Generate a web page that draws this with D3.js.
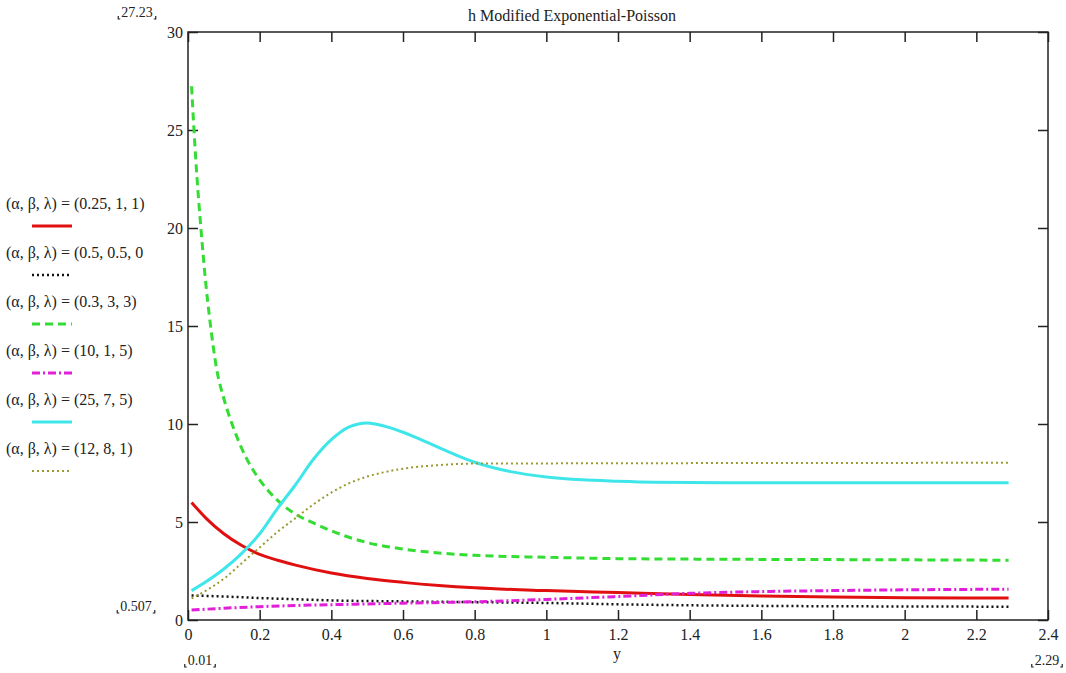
<!DOCTYPE html>
<html>
<head>
<meta charset="utf-8">
<script src="https://cdn.jsdelivr.net/npm/d3@7"></script>
<style>
body { margin: 0; background: #fff; }
text { font-family: "Liberation Serif", "Times New Roman", "DejaVu Serif", serif; fill: #222; }
</style>
</head>
<body>
<div id="chart"></div>
<script>
// 数据
let xTicks = [0, 0.2, 0.4, 0.6, 0.8, 1, 1.2, 1.4, 1.6, 1.8, 2, 2.2, 2.4];
let yTicks = [0, 5, 10, 15, 20, 25, 30];
let legendLabels = ["(0.25, 1, 1)", "(0.5, 0.5, 0", "(0.3, 3, 3)", "(10, 1, 5)", "(25, 7, 5)", "(12, 8, 1)"];

let redX = [0.01, 0.05, 0.1, 0.15, 0.2, 0.25, 0.3, 0.4, 0.5, 0.6, 0.7, 0.8, 1.0, 1.2, 1.4, 1.6, 1.8, 2.0, 2.29];
let redY = [6.0, 5.2, 4.4, 3.8, 3.35, 3.05, 2.8, 2.4, 2.12, 1.92, 1.76, 1.64, 1.5, 1.4, 1.3, 1.22, 1.17, 1.14, 1.12];

let blackX = [0.01, 0.1, 0.2, 0.3, 0.4, 0.6, 0.8, 1.0, 1.2, 1.4, 1.6, 2.0, 2.29];
let blackY = [1.25, 1.2, 1.12, 1.06, 1.0, 0.95, 0.91, 0.87, 0.8, 0.75, 0.72, 0.69, 0.68];

let greenX = [0.01, 0.017, 0.025, 0.036, 0.05, 0.061, 0.08, 0.1, 0.125, 0.15, 0.175, 0.2, 0.25, 0.3, 0.35, 0.4, 0.5, 0.6, 0.7, 0.8, 1.0, 1.2, 1.5, 2.0, 2.29];
let greenY = [27.23, 24.9, 22.6, 20, 17.1, 15.3, 12.8, 11.3, 9.9, 8.75, 7.85, 7.15, 6.1, 5.4, 4.95, 4.55, 3.95, 3.62, 3.42, 3.3, 3.2, 3.13, 3.1, 3.07, 3.05];

let magentaX = [0.01, 0.1, 0.2, 0.3, 0.4, 0.6, 0.8, 1.0, 1.2, 1.4, 1.6, 1.8, 2.0, 2.29];
let magentaY = [0.507, 0.6, 0.68, 0.74, 0.78, 0.86, 0.93, 1.05, 1.2, 1.36, 1.45, 1.5, 1.54, 1.57];

let cyanX = [0.01, 0.05, 0.1, 0.15, 0.2, 0.25, 0.3, 0.35, 0.4, 0.45, 0.5, 0.55, 0.6, 0.65, 0.7, 0.75, 0.8, 0.85, 0.9, 1.0, 1.1, 1.2, 1.3, 1.5, 2.29];
let cyanY = [1.5, 1.95, 2.6, 3.4, 4.4, 5.7, 6.9, 8.2, 9.2, 9.85, 10.05, 9.88, 9.58, 9.2, 8.8, 8.4, 8.05, 7.78, 7.57, 7.3, 7.15, 7.08, 7.03, 7.0, 7.0];

let oliveX = [0.01, 0.05, 0.1, 0.15, 0.2, 0.25, 0.3, 0.35, 0.4, 0.45, 0.5, 0.55, 0.6, 0.7, 0.8, 2.29];
let oliveY = [1.1, 1.5, 2.1, 2.9, 3.7, 4.5, 5.2, 5.9, 6.5, 6.98, 7.32, 7.55, 7.72, 7.9, 7.98, 8.02];

// 曲线样式
let series = [
    [redX, redY, "#e01010", 3, null],
    [blackX, blackY, "#111", 2.5, "2,3"],
    [greenX, greenY, "#33dd33", 3, "8,5"],
    [magentaX, magentaY, "#e020d8", 3, "8,3,2,3"],
    [cyanX, cyanY, "#3ee6ea", 3, null],
    [oliveX, oliveY, "#9a9a30", 2, "2,3"]
];

let width = 1066, height = 673;
let pLeft = 188, pRight = 1048, pTop = 32, pBottom = 620;

let svg = d3.select("#chart").append("svg").attr("width", width).attr("height", height);

let x = d3.scaleLinear().domain([0, 2.4]).range([pLeft, pRight]);
let y = d3.scaleLinear().domain([0, 30]).range([pBottom, pTop]);

// 坐标轴 (inward ticks)
let fmt = d3.format("~g");
let gx = svg.append("g").attr("transform", "translate(0," + pBottom + ")")
    .call(d3.axisBottom(x).tickValues(xTicks).tickSize(-10).tickPadding(6).tickFormat(fmt));
let gy = svg.append("g").attr("transform", "translate(" + pLeft + ",0)")
    .call(d3.axisLeft(y).tickValues(yTicks).tickSize(-10).tickPadding(5).tickFormat(fmt));
svg.append("g").attr("transform", "translate(0," + pTop + ")")
    .call(d3.axisTop(x).tickValues(xTicks).tickSize(-10).tickFormat(""));
svg.append("g").attr("transform", "translate(" + pRight + ",0)")
    .call(d3.axisRight(y).tickValues(yTicks).tickSize(-10).tickFormat(""));
svg.selectAll(".domain").remove();
svg.selectAll(".tick line").attr("stroke", "#222").attr("stroke-width", 1.5);
svg.selectAll(".tick text").attr("font-size", 16).attr("fill", "#222");
gx.selectAll(".tick text").attr("dy", "0.85em");

svg.append("rect").attr("x", pLeft).attr("y", pTop).attr("width", pRight - pLeft).attr("height", pBottom - pTop)
    .attr("fill", "none").attr("stroke", "#222").attr("stroke-width", 1.5);

// 曲线
let line = d3.line().x(d => x(d[0])).y(d => y(d[1])).curve(d3.curveMonotoneX);
svg.append("g").attr("id", "paths").selectAll("path").data(series).enter().append("path")
    .attr("d", d => line(d[0].map((v, i) => [v, d[1][i]])))
    .attr("fill", "none").attr("stroke", d => d[2]).attr("stroke-width", d => d[3])
    .attr("stroke-dasharray", d => d[4]);

// 标题, 轴标签
svg.append("text").attr("x", 572).attr("y", 21).attr("text-anchor", "middle").attr("font-size", 16).text("h Modified Exponential-Poisson");
svg.append("text").attr("x", 617).attr("y", 659).attr("text-anchor", "middle").attr("font-size", 16).text("y");

// 范围标记
let marks = [[137, 17, "27.23"], [136, 611, "0.507"], [200, 665, "0.01"], [1047, 665, "2.29"]];
marks.forEach(m => {
    let t = svg.append("text").attr("x", m[0]).attr("y", m[1]).attr("text-anchor", "middle").attr("font-size", 14).text(m[2]);
    let w = t.node().getComputedTextLength();
    let x0 = m[0] - w / 2 - 3, x1 = m[0] + w / 2 + 3, yb = m[1] + 2;
    svg.append("path").attr("d", "M" + x0 + "," + (yb - 3) + " L" + x0 + "," + yb + " L" + (x0 + 2) + "," + yb)
        .attr("fill", "none").attr("stroke", "#222").attr("stroke-width", 1.2);
    svg.append("path").attr("d", "M" + (x1 - 2) + "," + yb + " L" + x1 + "," + yb + " L" + x1 + "," + (yb - 3))
        .attr("fill", "none").attr("stroke", "#222").attr("stroke-width", 1.2);
});

// 图例
let legend = svg.append("g").attr("id", "legend");
series.forEach((s, i) => {
    let ty = 209 + i * 49;
    legend.append("text").attr("x", 6).attr("y", ty).attr("font-size", 16)
        .text("(α, β, λ) = " + legendLabels[i]);
    legend.append("line").attr("x1", 32).attr("x2", 72).attr("y1", ty + 17).attr("y2", ty + 17)
        .attr("stroke", s[2]).attr("stroke-width", s[3]).attr("stroke-dasharray", s[4]);
});
</script>
</body>
</html>
